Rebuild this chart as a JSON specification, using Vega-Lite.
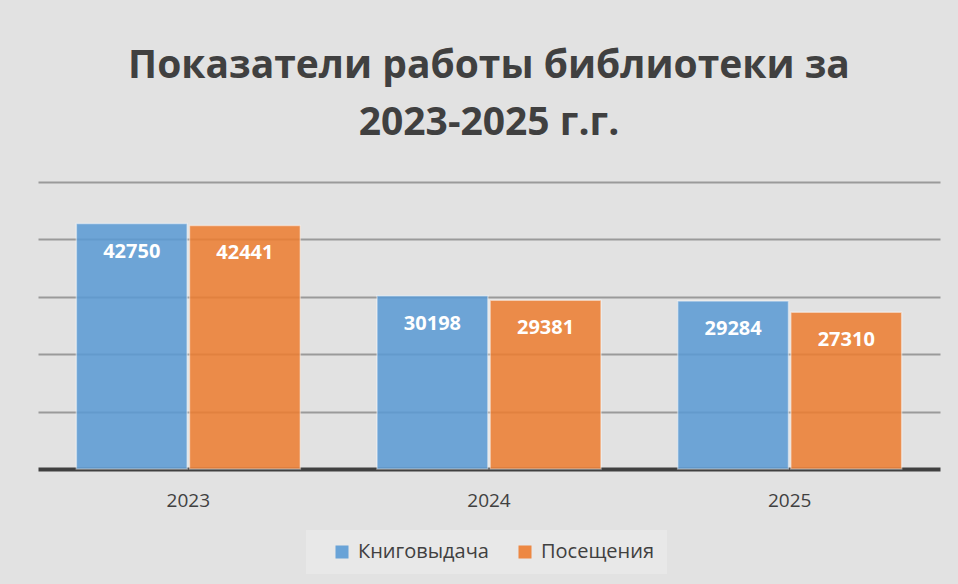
{
  "$schema": "https://vega.github.io/schema/vega-lite/v6.json",
  "width": 902,
  "height": 287,
  "autosize": {"type": "none"},
  "padding": {"left": 38, "top": 182, "right": 18, "bottom": 115},
  "background": "#e2e2e2",
  "config": {
    "view": {"stroke": null},
    "font": "Open Sans"
  },
  "title": {
    "text": ["Показатели работы библиотеки за", "2023-2025 г.г."],
    "anchor": "middle",
    "frame": "group",
    "fontSize": 39,
    "fontWeight": "bold",
    "font": "Open Sans",
    "color": "#404040",
    "lineHeight": 57,
    "baseline": "alphabetic",
    "offset": 8
  },
  "data": {
    "values": [
      {"year": "2023", "series": "Книговыдача", "value": 42750},
      {"year": "2023", "series": "Посещения", "value": 42441},
      {"year": "2024", "series": "Книговыдача", "value": 30198},
      {"year": "2024", "series": "Посещения", "value": 29381},
      {"year": "2025", "series": "Книговыдача", "value": 29284},
      {"year": "2025", "series": "Посещения", "value": 27310}
    ]
  },
  "encoding": {
    "x": {
      "field": "year",
      "type": "nominal",
      "scale": {"paddingInner": 0.255, "paddingOuter": 0.1275},
      "axis": {
        "title": null,
        "labelAngle": 0,
        "labelFontSize": 19,
        "labelColor": "#404040",
        "labelPadding": 22,
        "ticks": false,
        "domainColor": "#404040",
        "domainWidth": 4
      }
    },
    "xOffset": {
      "field": "series",
      "type": "nominal",
      "scale": {"paddingInner": 0.02}
    },
    "y": {
      "field": "value",
      "type": "quantitative",
      "scale": {"domain": [0, 50000], "nice": false},
      "axis": {
        "title": null,
        "labels": false,
        "ticks": false,
        "domain": false,
        "values": [10000, 20000, 30000, 40000, 50000],
        "gridColor": "#9a9a9a",
        "gridWidth": 2
      }
    }
  },
  "layer": [
    {
      "mark": {
        "type": "bar",
        "opacity": 0.86,
        "stroke": "#ffffff",
        "strokeOpacity": 0.5,
        "strokeWidth": 1.5
      },
      "encoding": {
        "color": {
          "field": "series",
          "type": "nominal",
          "scale": {"domain": ["Книговыдача", "Посещения"], "range": ["#5b9bd5", "#ed7d31"]},
          "legend": {
            "title": null,
            "orient": "none",
            "direction": "horizontal",
            "legendX": 268,
            "legendY": 348,
            "fillColor": "#e8e8e8",
            "padding": 12,
            "symbolType": "square",
            "symbolSize": 169,
            "symbolStrokeWidth": 0,
            "symbolOpacity": 0.9,
            "symbolOffset": 14,
            "labelFontSize": 20,
            "labelColor": "#404040",
            "labelFont": "Open Sans",
            "columnPadding": 12,
            "labelOffset": 6
          }
        }
      }
    },
    {
      "mark": {
        "type": "text",
        "color": "#ffffff",
        "fontWeight": "bold",
        "fontSize": 20,
        "font": "Open Sans",
        "baseline": "middle",
        "dy": 28
      },
      "encoding": {
        "text": {"field": "value", "type": "quantitative", "format": "d"}
      }
    }
  ]
}
